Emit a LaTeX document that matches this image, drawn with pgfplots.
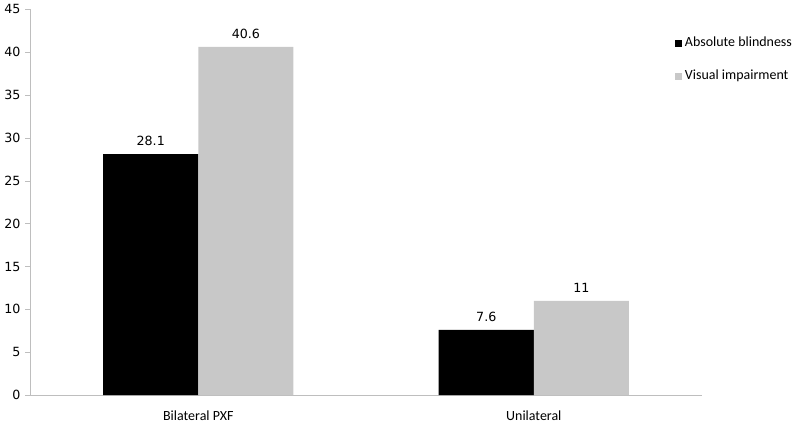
\documentclass[border=0pt]{standalone}
\usepackage{fontspec}
\setmainfont{DejaVu Sans}
\newfontfamily\carlito{Carlito}
\usepackage{pgfplots}
\pgfplotsset{compat=1.18}
\definecolor{barblack}{HTML}{000000}
\definecolor{bargray}{HTML}{C8C8C8}
\definecolor{axgray}{HTML}{BEBEBE}
\begin{document}
\begin{tikzpicture}
\path (0,0) rectangle (600pt,315pt);
\begin{axis}[
  at={(21.5pt,19.5pt)}, anchor=south west,
  scale only axis, width=504.5pt, height=290.25pt,
  ybar=0pt, bar width=71.5pt,
  xmin=-0.5, xmax=1.5, ymin=0, ymax=45,
  ytick={0,5,...,45},
  xtick={0,1}, xticklabels={Bilateral PXF,Unilateral},
  extra x ticks={-0.5,0.5,1.5}, extra x tick labels={},
  extra x tick style={major tick length=5pt, tick style={axgray}, tickpos=left},
  x tick label style={font=\carlito\fontsize{10.5}{12}\selectfont, yshift=-4pt},
  y tick label style={font=\fontsize{9.5}{11}\selectfont},
  /pgf/number format/assume math mode=true,
  axis x line*=bottom, axis y line*=left,
  axis line style={axgray, -},
  major tick length=4pt,
  x tick style={draw=none},
  ytick style={axgray},
  tick align=outside,
  nodes near coords,
  nodes near coords style={font=\fontsize{9.5}{11}\selectfont, black, yshift=3pt},
  legend style={at={(0.96,0.935)}, anchor=north west, draw=none, fill=none,
    font=\carlito\fontsize{10.5}{12}\selectfont, row sep=12pt, inner sep=0pt},
  legend cell align=left,
  legend image code/.code={\fill[#1] (0pt,-3pt) rectangle (5.5pt,2.5pt);},
]
\addplot[fill=barblack, draw=none] coordinates {(0,28.1) (1,7.6)};
\addplot[fill=bargray, draw=none] coordinates {(0,40.6) (1,11)};
\legend{Absolute blindness, Visual impairment}
\end{axis}
\end{tikzpicture}
\end{document}
